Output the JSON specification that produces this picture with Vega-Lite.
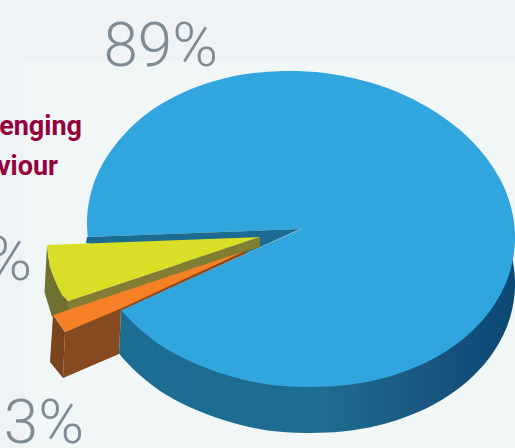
{
  "$schema": "https://vega.github.io/schema/vega-lite/v6.json",
  "width": 515,
  "height": 448,
  "padding": 0,
  "autosize": {"type": "none"},
  "background": "#eff3f5",
  "view": {"stroke": null},
  "config": {"axis": {"domain": false}},
  "datasets": {
    "rim": [
      {"i":0,"x":515,"y":235},{"i":1,"x":512.4,"y":262.3},{"i":2,"x":503.5,"y":288.6},{"i":3,"x":488.3,"y":313.2},
      {"i":4,"x":467.5,"y":335.2},{"i":5,"x":441.7,"y":353.9},{"i":6,"x":411.5,"y":368.8},{"i":7,"x":378,"y":379.6},
      {"i":8,"x":342.1,"y":385.6},{"i":9,"x":305,"y":387},{"i":10,"x":267.7,"y":384.5},{"i":11,"x":231.6,"y":376.5},
      {"i":12,"x":197.5,"y":364.5},{"i":13,"x":166.5,"y":349},{"i":14,"x":139.7,"y":329},{"i":15,"x":117.7,"y":306},
      {"i":16,"x":101.2,"y":280},{"i":17,"x":90.9,"y":253},{"i":18,"x":87,"y":226},{"i":19,"x":89.5,"y":199},
      {"i":20,"x":98.4,"y":172},{"i":21,"x":113.7,"y":147},{"i":22,"x":134.5,"y":124},{"i":23,"x":160.3,"y":104.6},
      {"i":24,"x":190.5,"y":89.2},{"i":25,"x":224,"y":78.4},{"i":26,"x":259.9,"y":72.4},{"i":27,"x":297,"y":71},
      {"i":28,"x":334.3,"y":74.4},{"i":29,"x":370.4,"y":82.6},{"i":30,"x":404.5,"y":95.2},{"i":31,"x":435.5,"y":111.9},
      {"i":32,"x":462.3,"y":132},{"i":33,"x":484.3,"y":155.2},{"i":34,"x":500.8,"y":180.6},{"i":35,"x":511.1,"y":207.4}
    ],
    "facets": [
      {"part":"gap","i":0,"x":301,"y":229},{"part":"gap","i":1,"x":121,"y":310},{"part":"gap","i":2,"x":119,"y":355},
      {"part":"gap","i":3,"x":70,"y":380},{"part":"gap","i":4,"x":70,"y":237},{"part":"gap","i":5,"x":87,"y":237},

      {"part":"wall","i":0,"x":300,"y":229},{"part":"wall","i":1,"x":87,"y":237},{"part":"wall","i":2,"x":86,"y":243},
      {"part":"wall","i":3,"x":200,"y":267},{"part":"wall","i":4,"x":245,"y":254},

      {"part":"brownBack","i":0,"x":53,"y":315},{"part":"brownBack","i":1,"x":65,"y":332},{"part":"brownBack","i":2,"x":63,"y":378},{"part":"brownBack","i":3,"x":50,"y":362},
      {"part":"brownFront","i":0,"x":65,"y":332},{"part":"brownFront","i":1,"x":121,"y":309},{"part":"brownFront","i":2,"x":119,"y":354},{"part":"brownFront","i":3,"x":63,"y":378},

      {"part":"oliveOuter","i":0,"x":47,"y":245},{"part":"oliveOuter","i":1,"x":44.5,"y":292},{"part":"oliveOuter","i":2,"x":52,"y":317},{"part":"oliveOuter","i":3,"x":68,"y":311},{"part":"oliveOuter","i":4,"x":68,"y":301},{"part":"oliveOuter","i":5,"x":58,"y":287},{"part":"oliveOuter","i":6,"x":50,"y":267},
      {"part":"oliveInner","i":0,"x":68,"y":301},{"part":"oliveInner","i":1,"x":260,"y":237},{"part":"oliveInner","i":2,"x":260,"y":247},{"part":"oliveInner","i":3,"x":68,"y":311},
      {"part":"yellow","i":0,"x":47,"y":245},{"part":"yellow","i":1,"x":260,"y":237},{"part":"yellow","i":2,"x":68,"y":301},{"part":"yellow","i":3,"x":62,"y":295},{"part":"yellow","i":4,"x":58,"y":287},{"part":"yellow","i":5,"x":53.5,"y":277},{"part":"yellow","i":6,"x":50,"y":267},{"part":"yellow","i":7,"x":48,"y":256},

      {"part":"orangeEdge","i":0,"x":245,"y":251},{"part":"orangeEdge","i":1,"x":245,"y":254},{"part":"orangeEdge","i":2,"x":122,"y":310},{"part":"orangeEdge","i":3,"x":65,"y":332},
      {"part":"orange","i":0,"x":53,"y":315},{"part":"orange","i":1,"x":245,"y":251},{"part":"orange","i":2,"x":122,"y":308},{"part":"orange","i":3,"x":65,"y":332}
    ],
    "shares": [
      {"label":"89%","x":218,"y":66},
      {"label":"8%","x":32,"y":280},
      {"label":"3%","x":84,"y":443}
    ],
    "title": [
      {"label":"Challenging","x":82,"y":135},
      {"label":"behaviour","x":58,"y":175}
    ]
  },
  "layer": [
    {
      "data": {"values": [{"x":25,"x2":515,"y":60,"y2":448}]},
      "mark": {"type":"rect","fill":"#f1f6f7"},
      "encoding": {
        "x": {"field":"x","type":"quantitative","scale":{"domain":[0,515],"nice":false,"zero":false},"axis":null},
        "x2": {"field":"x2"},
        "y": {"field":"y","type":"quantitative","scale":{"domain":[448,0],"nice":false,"zero":false},"axis":null},
        "y2": {"field":"y2"}
      }
    },
    {
      "data": {"name":"rim"},
      "mark": {"type":"line","interpolate":"cardinal-closed","filled":true,"strokeWidth":0,"yOffset":46,
        "fill":{"x1":0,"y1":0,"x2":1,"y2":0,"gradient":"linear","stops":[
          {"offset":0,"color":"#1a6d92"},{"offset":0.55,"color":"#1f6d90"},{"offset":0.8,"color":"#1a5580"},{"offset":1,"color":"#0b4874"}]}},
      "encoding": {
        "x": {"field":"x","type":"quantitative","axis":null},
        "y": {"field":"y","type":"quantitative","axis":null},
        "order": {"field":"i","type":"quantitative"}
      }
    },
    {
      "data": {"name":"rim"},
      "mark": {"type":"line","interpolate":"cardinal-closed","filled":true,"strokeWidth":0,"fill":"#31a6de"},
      "encoding": {
        "x": {"field":"x","type":"quantitative","axis":null},
        "y": {"field":"y","type":"quantitative","axis":null},
        "order": {"field":"i","type":"quantitative"}
      }
    },
    {
      "data": {"name":"facets"},
      "mark": {"type":"line","filled":true,"strokeWidth":0,"interpolate":"linear-closed"},
      "encoding": {
        "x": {"field":"x","type":"quantitative","axis":null},
        "y": {"field":"y","type":"quantitative","axis":null},
        "order": {"field":"i","type":"quantitative"},
        "detail": {"field":"part"},
        "fill": {"field":"part","type":"nominal","legend":null,"scale":{
          "domain":["gap","wall","brownBack","brownFront","oliveOuter","oliveInner","yellow","orangeEdge","orange"],
          "range":["#f1f6f7","#1b6c90","#7a451d","#864a20","#6f7133","#817e34","#d9de26","#8c4a1e","#f58025"]}}
      }
    },
    {
      "data": {"name":"shares"},
      "mark": {"type":"text","font":"Roboto","fontWeight":300,"fontSize":62,"align":"right","baseline":"alphabetic","color":"#7f8c96","clip":true},
      "encoding": {
        "x": {"field":"x","type":"quantitative","axis":null},
        "y": {"field":"y","type":"quantitative","axis":null},
        "text": {"field":"label"}
      }
    },
    {
      "data": {"name":"title"},
      "mark": {"type":"text","font":"Roboto","fontWeight":"bold","fontSize":27,"align":"right","baseline":"alphabetic","color":"#94003c","clip":true},
      "encoding": {
        "x": {"field":"x","type":"quantitative","axis":null},
        "y": {"field":"y","type":"quantitative","axis":null},
        "text": {"field":"label"}
      }
    }
  ]
}
